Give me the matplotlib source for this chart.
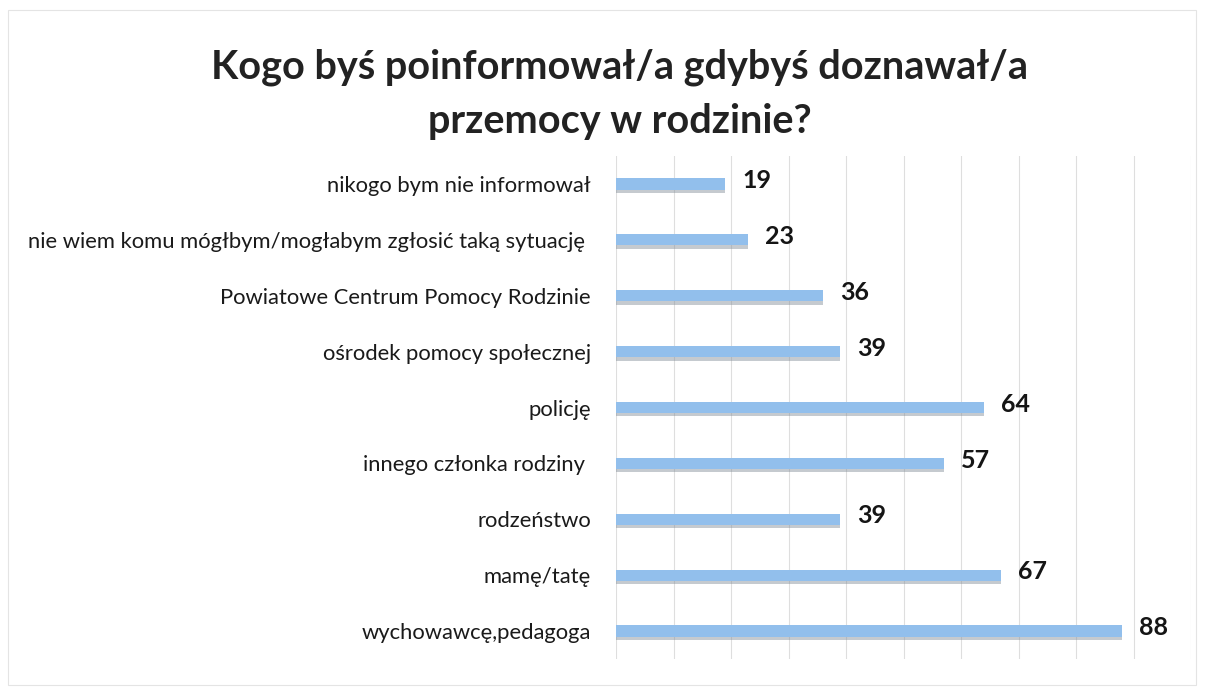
import matplotlib
matplotlib.use("Agg")
import matplotlib.pyplot as plt
from matplotlib.patches import Rectangle

categories = [
    "nikogo bym nie informował",
    "nie wiem komu mógłbym/mogłabym zgłosić taką sytuację ",
    "Powiatowe Centrum Pomocy Rodzinie",
    "ośrodek pomocy społecznej",
    "policję",
    "innego członka rodziny ",
    "rodzeństwo",
    "mamę/tatę",
    "wychowawcę,pedagoga",
]
values = [19, 23, 36, 39, 64, 57, 39, 67, 88]
title = "Kogo byś poinformował/a gdybyś doznawał/a\nprzemocy w rodzinie?"

plt.rcParams['font.family'] = ['Lato', 'DejaVu Sans']

fig = plt.figure(figsize=(12.08, 6.9), dpi=100)
ax = fig.add_axes([616/1208, 1-659/690, (1191-616)/1208, 503/690])

y = list(range(len(categories)))
# shadow
ax.barh([i + 0.05 for i in y], values, height=0.22, color="#7f8a96", alpha=0.45,
        zorder=2, linewidth=0)
ax.barh(y, values, height=0.2, color="#92bfec", zorder=3, linewidth=0)

for i, v in enumerate(values):
    ax.text(v + 2.9, i - 0.06, str(v), va="center", ha="left", fontsize=18,
            fontweight="bold", color="#151515", zorder=4)

ax.set_xlim(0, 100)
ax.set_ylim(len(categories) - 0.5, -0.5)
ax.set_xticks(range(0, 101, 10))
ax.set_xticklabels([])
ax.tick_params(axis="x", length=0)
ax.set_yticks(y)
ax.set_yticklabels(categories, fontsize=15.8, color="#1a1a1a")
ax.tick_params(axis="y", length=0, pad=18)
ax.grid(axis="x", color="#dedede", linewidth=0.8, zorder=0)
for s in ax.spines.values():
    s.set_visible(False)

fig.text(0.513, 1 - 94/690, title, ha="center", va="center", fontsize=28.5,
         fontweight="bold", color="#222222", linespacing=1.55)

fig.patches.append(Rectangle((8/1208, 1-685/690), 1188/1208, 675/690,
                             transform=fig.transFigure, fill=False,
                             edgecolor="#e4e4e4", linewidth=0.8))

fig.savefig("out.png", dpi=100, facecolor="white")
